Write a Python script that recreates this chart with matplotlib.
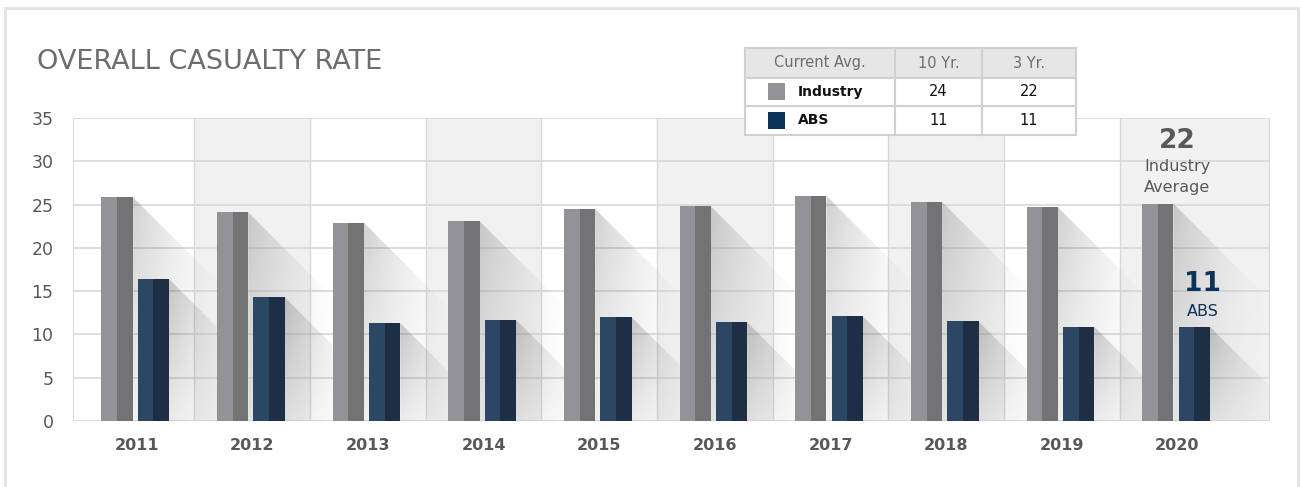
import numpy as np
import matplotlib.pyplot as plt
from matplotlib.patches import Rectangle, Polygon

# chart data
years = ['2011', '2012', '2013', '2014', '2015', '2016', '2017', '2018', '2019', '2020']
industry = [25.9, 24.1, 22.9, 23.1, 24.5, 24.8, 26.0, 25.3, 24.7, 25.1]
abs_rate = [16.4, 14.3, 11.3, 11.7, 12.0, 11.4, 12.1, 11.5, 10.9, 10.9]
yticks = [0, 5, 10, 15, 20, 25, 30, 35]

# summary table
tbl_header = ['Current Avg.', '10 Yr.', '3 Yr.']
tbl_rows = ['Industry', 'ABS']
avg_10yr = ['24', '11']
avg_3yr = ['22', '11']
callout_industry = '22'
callout_abs = '11'

ind_light, ind_dark = '#939397', '#737375'
abs_light, abs_dark = '#2c4764', '#1e2f45'
navy = '#0e3358'
txt_gray = '#58585a'

plt.rcParams['font.family'] = ['DejaVu Sans']

fig = plt.figure(figsize=(13.01, 4.87), dpi=100)
W, H = 1301, 487
ax = fig.add_axes([73 / W, 1 - 421 / H, (1270 - 73) / W, (421 - 118) / H])
x0, x1 = -0.55, 9.8
ax.set_xlim(x0, x1)
ax.set_ylim(0, 35)

# outer frame
fig.patches.append(Rectangle((5 / W, -0.1), (1298 - 5) / W, 1.1 - 8 / H, transform=fig.transFigure,
                             fill=False, ec='#e2e2e2', lw=2, zorder=0))

# alternating column shading
n = len(years)
for i in range(n):
    if i % 2 == 1:
        right = i + 0.5 if i < n - 1 else x1
        ax.axvspan(i - 0.5, right, color='#f1f1f1', zorder=0, lw=0)
for i in range(n - 1):
    ax.axvline(i + 0.5, color='#d8d8d8', lw=1, zorder=0.5)
for t in yticks:
    ax.axhline(t, color='#d8d8d8', lw=1.2, zorder=0.5)

for s in ax.spines.values():
    s.set_visible(False)
ax.axvline(x0, color='#d8d8d8', lw=1.5, zorder=0.5)
ax.axvline(x1, color='#d8d8d8', lw=1.5, zorder=0.5)

# px per data unit
sx = (1270 - 73) / (x1 - x0)
sy = (421 - 118) / 35.0

bw = 0.27
off_ind, off_abs = -0.17, 0.145

# gradient for shadows: fades to the right and towards the bottom
hfade = np.linspace(1, 0, 256) ** 1.5
vfade = np.linspace(1, 0.3, 128)
grad = np.zeros((128, 256, 4))
grad[..., :3] = 0.35
grad[..., 3] = 0.28 * vfade[:, None] * hfade[None, :]

def shadow(xr, top):
    L = top * sy / sx
    poly = Polygon([(xr, top), (xr + L, 0), (xr, 0)], closed=True, transform=ax.transData,
                   fc='none', ec='none')
    ax.add_patch(poly)
    im = ax.imshow(grad, extent=(xr, xr + 0.85, 0, top), aspect='auto', zorder=1,
                   interpolation='bilinear', origin='upper')
    im.set_clip_path(poly)

for i in range(n):
    for off, val, cl, cd in [(off_ind, industry[i], ind_light, ind_dark),
                             (off_abs, abs_rate[i], abs_light, abs_dark)]:
        c = i + off
        shadow(c + bw / 2, val)
        ax.bar(c - bw / 4, val, width=bw / 2, color=cl, zorder=3, lw=0)
        ax.bar(c + bw / 4, val, width=bw / 2, color=cd, zorder=3, lw=0)

ax.set_xlim(x0, x1)
ax.set_ylim(0, 35)
ax.set_xticks(range(n))
ax.set_xticklabels(years, fontsize=11.5, fontweight='bold', color=txt_gray)
ax.set_yticks(yticks)
ax.set_yticklabels([str(t) for t in yticks], fontsize=12.5, color=txt_gray)
ax.tick_params(length=0)
ax.tick_params(axis='x', pad=12)
ax.tick_params(axis='y', pad=14)

# title
fig.text(37 / W, 1 - 62 / H, 'OVERALL CASUALTY RATE', fontsize=19.5, color='#6d6d6f', va='center')

# callouts on 2020
ax.text(9.0, 32.4, callout_industry, ha='center', va='center', fontsize=19,
        fontweight='bold', color=txt_gray)
ax.text(9.0, 29.4, 'Industry', ha='center', va='center', fontsize=11.5, color=txt_gray)
ax.text(9.0, 27.0, 'Average', ha='center', va='center', fontsize=11.5, color=txt_gray)
ax.text(9.22, 15.8, callout_abs, ha='center', va='center', fontsize=19,
        fontweight='bold', color=navy)
ax.text(9.22, 12.7, 'ABS', ha='center', va='center', fontsize=11.5, color=navy)

# summary table drawn in pixel coords
def fx(px):
    return px / W

def fy(py):
    return 1 - py / H

cols = [745, 895, 982, 1076]
rows = [48, 78, 106, 135]
fig.patches.append(Rectangle((fx(cols[0]), fy(rows[3])), fx(cols[3] - cols[0]), (rows[3] - rows[0]) / H,
                             transform=fig.transFigure, fc='white', ec='#d0d0d0', lw=1.5, zorder=5))
fig.patches.append(Rectangle((fx(cols[0]), fy(rows[1])), fx(cols[3] - cols[0]), (rows[1] - rows[0]) / H,
                             transform=fig.transFigure, fc='#e6e6e6', ec='#d0d0d0', lw=1.5, zorder=5))
for c in cols[1:3]:
    fig.lines.append(plt.Line2D([fx(c), fx(c)], [fy(rows[0]), fy(rows[3])], transform=fig.transFigure,
                                color='#d0d0d0', lw=1.5, zorder=6))
fig.lines.append(plt.Line2D([fx(cols[0]), fx(cols[3])], [fy(rows[2]), fy(rows[2])], transform=fig.transFigure,
                            color='#d0d0d0', lw=1.5, zorder=6))

hy = fy((rows[0] + rows[1]) / 2)
for j, h in enumerate(tbl_header):
    fig.text(fx((cols[j] + cols[j + 1]) / 2), hy, h, ha='center', va='center', fontsize=10.5,
             color='#6d6d6f', zorder=7)
swatch = [ind_light, navy]
for r in range(2):
    cy = (rows[r + 1] + rows[r + 2]) / 2
    fig.patches.append(Rectangle((fx(768), fy(cy + 8)), fx(17), 17 / H, transform=fig.transFigure,
                                 fc=swatch[r], ec='none', zorder=7))
    fig.text(fx(798), fy(cy), tbl_rows[r], ha='left', va='center', fontsize=10, fontweight='bold',
             color='#111111', zorder=7)
    fig.text(fx((cols[1] + cols[2]) / 2), fy(cy), avg_10yr[r], ha='center', va='center', fontsize=10.5,
             color='#111111', zorder=7)
    fig.text(fx((cols[2] + cols[3]) / 2), fy(cy), avg_3yr[r], ha='center', va='center', fontsize=10.5,
             color='#111111', zorder=7)

fig.savefig('out.png', dpi=100)
